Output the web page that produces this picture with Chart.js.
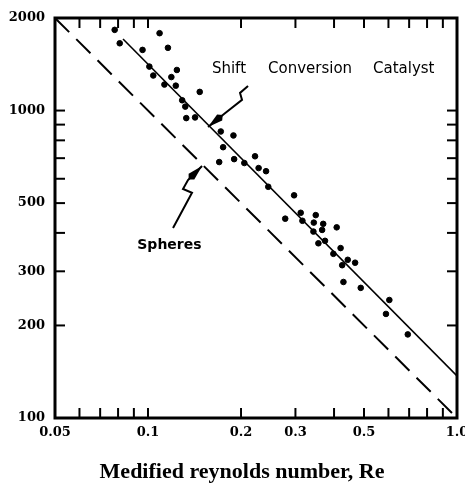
<!DOCTYPE html>
<html>
<head>
<meta charset="utf-8">
<script src="https://cdn.jsdelivr.net/npm/chart.js@4/dist/chart.umd.min.js"></script>
<style>
  html, body { margin: 0; padding: 0; background: #fff; }
  #wrap { width: 465px; height: 488px; }
</style>
</head>
<body>
<div id="wrap"><canvas id="chart" width="465" height="488"></canvas></div>
<script>
// Shift conversion catalyst points (Re, friction factor)
const catalystRe = [0.078, 0.109, 0.081, 0.116, 0.096, 0.101, 0.124, 0.104, 0.119, 0.113,
  0.123, 0.147, 0.129, 0.132, 0.133, 0.142, 0.172, 0.189, 0.175, 0.222,
  0.190, 0.170, 0.205, 0.228, 0.241, 0.245, 0.278, 0.297, 0.312, 0.349,
  0.316, 0.344, 0.369, 0.408, 0.366, 0.343, 0.374, 0.356, 0.420, 0.398,
  0.443, 0.468, 0.425, 0.429, 0.488, 0.604, 0.589, 0.693];
const catalystF = [1830, 1785, 1655, 1600, 1575, 1390, 1355, 1300, 1285, 1215,
  1205, 1150, 1080, 1030, 945, 950, 855, 830, 760, 710,
  695, 680, 675, 650, 635, 565, 445, 530, 465, 457,
  438, 432, 428, 417, 409, 404, 377, 370, 357, 342,
  327, 320, 314, 277, 265, 242, 218, 187];

// correlation lines (end points)
const catalystLineRe = [0.083, 1.0];
const catalystLineF = [1709, 137];
const sphereLineRe = [0.05, 1.0];
const sphereLineF = [2000, 100];

// axis ticks
const xTickValues = [0.05, 0.06, 0.07, 0.08, 0.09, 0.1, 0.2, 0.3, 0.4, 0.5, 0.6, 0.7, 0.8, 0.9, 1.0];
const xTickLabels = ['0.05', '', '', '', '', '0.1', '0.2', '0.3', '', '0.5', '', '', '', '', '1.0'];
const yTickValues = [100, 200, 300, 400, 500, 600, 700, 800, 900, 1000, 2000];
const yTickLabels = ['100', '200', '300', '', '500', '', '', '', '', '1000', '2000'];
const xTitle = 'Medified reynolds number, Re';

// annotation texts and pointer arrows (data coordinates)
const noteWords = ['Shift', 'Conversion', 'Catalyst'];
const noteWordsRe = [0.161, 0.2445, 0.5347];
const noteWordsF = [1365, 1365, 1365];
const sphereNoteRe = 0.1173;
const sphereNoteF = 365;
const shiftArrowRe = [0.2107, 0.1985, 0.2015, 0.1762, 0.1564];
const shiftArrowF = [1202, 1141, 1083, 975, 884];
const sphereArrowRe = [0.1205, 0.1388, 0.1298, 0.1347, 0.1496];
const sphereArrowF = [415, 540, 556, 594, 660];

const toPoints = (xs, ys) => xs.map((x, i) => ({ x: x, y: ys[i] }));

const frameAndNotes = {
  id: 'frameAndNotes',
  afterDatasetsDraw(chart) {
    const { ctx, chartArea: a, scales } = chart;
    const x = scales.x, y = scales.y;
    const seg = (x1, y1, x2, y2) => {
      ctx.beginPath(); ctx.moveTo(x1, y1); ctx.lineTo(x2, y2); ctx.stroke();
    };
    ctx.save();
    ctx.strokeStyle = '#000';
    ctx.fillStyle = '#000';

    // inward tick marks on all four sides
    ctx.lineWidth = 2;
    xTickValues.forEach(v => {
      if (v <= 0.05 || v >= 1) return;
      const px = x.getPixelForValue(v);
      seg(px, a.bottom, px, a.bottom - 10);
      seg(px, a.top, px, a.top + 10);
    });
    yTickValues.forEach(v => {
      if (v <= 100 || v >= 2000) return;
      const py = y.getPixelForValue(v);
      seg(a.left, py, a.left + 10, py);
      seg(a.right, py, a.right - 10, py);
    });

    // frame
    ctx.lineWidth = 3;
    ctx.strokeRect(a.left, a.top, a.right - a.left, a.bottom - a.top);

    // arrows
    const drawArrow = (res, fs) => {
      const pts = res.map((r, i) => [x.getPixelForValue(r), y.getPixelForValue(fs[i])]);
      ctx.lineWidth = 2;
      ctx.beginPath();
      pts.forEach((p, i) => i ? ctx.lineTo(p[0], p[1]) : ctx.moveTo(p[0], p[1]));
      ctx.stroke();
      const tip = pts[pts.length - 1], prev = pts[pts.length - 2];
      const ang = Math.atan2(tip[1] - prev[1], tip[0] - prev[0]);
      ctx.save();
      ctx.translate(tip[0], tip[1]);
      ctx.rotate(ang);
      ctx.beginPath();
      ctx.moveTo(0, 0);
      ctx.lineTo(-15, -4);
      ctx.lineTo(-19, 0);
      ctx.lineTo(-15, 4);
      ctx.closePath();
      ctx.fill();
      ctx.restore();
    };
    drawArrow(shiftArrowRe, shiftArrowF);
    drawArrow(sphereArrowRe, sphereArrowF);

    // labels
    ctx.textBaseline = 'middle';
    ctx.textAlign = 'left';
    ctx.font = '15px "DejaVu Sans"';
    noteWords.forEach((w, i) => {
      ctx.fillText(w, x.getPixelForValue(noteWordsRe[i]), y.getPixelForValue(noteWordsF[i]));
    });
    ctx.textAlign = 'center';
    ctx.font = 'bold 14px "DejaVu Sans"';
    ctx.fillText('Spheres', x.getPixelForValue(sphereNoteRe), y.getPixelForValue(sphereNoteF));

    // axis title, printed a little left of the plot centre
    ctx.font = 'bold 22px "Liberation Serif"';
    ctx.fillText(xTitle, 242, 472);
    ctx.restore();
  }
};

new Chart(document.getElementById('chart'), {
  type: 'scatter',
  data: {
    datasets: [
      {
        label: 'Shift Conversion Catalyst',
        data: toPoints(catalystRe, catalystF),
        backgroundColor: '#000',
        borderColor: '#000',
        pointRadius: 2.8,
        showLine: false
      },
      {
        label: 'Catalyst fit',
        data: toPoints(catalystLineRe, catalystLineF),
        borderColor: '#000',
        borderWidth: 1.6,
        pointRadius: 0,
        showLine: true
      },
      {
        label: 'Spheres',
        data: toPoints(sphereLineRe, sphereLineF),
        borderColor: '#000',
        borderWidth: 2,
        borderDash: [20, 10],
        pointRadius: 0,
        showLine: true
      }
    ]
  },
  options: {
    responsive: false,
    animation: false,
    devicePixelRatio: 1,
    layout: { padding: { left: 0, right: 8, top: 18, bottom: 0 } },
    plugins: {
      legend: { display: false },
      tooltip: { enabled: false }
    },
    scales: {
      x: {
        type: 'logarithmic',
        min: 0.05,
        max: 1.0,
        grid: { display: false, drawTicks: false },
        border: { display: false },
        afterBuildTicks: scale => { scale.ticks = xTickValues.map(v => ({ value: v })); },
        afterFit: scale => { scale.height = 70; scale.paddingLeft = 0; scale.paddingRight = 0; },
        ticks: {
          autoSkip: false,
          maxRotation: 0,
          padding: 7,
          color: '#000',
          font: { family: '"DejaVu Serif"', size: 13, weight: 'bold' },
          callback: (value, i) => xTickLabels[i]
        }
      },
      y: {
        type: 'logarithmic',
        min: 100,
        max: 2000,
        grid: { display: false, drawTicks: false },
        border: { display: false },
        afterBuildTicks: scale => { scale.ticks = yTickValues.map(v => ({ value: v })); },
        afterFit: scale => { scale.width = 55; scale.paddingTop = 0; scale.paddingBottom = 0; },
        ticks: {
          autoSkip: false,
          padding: 10,
          color: '#000',
          font: { family: '"DejaVu Serif"', size: 13, weight: 'bold' },
          callback: (value, i) => yTickLabels[i]
        }
      }
    }
  },
  plugins: [frameAndNotes]
});
</script>
</body>
</html>
